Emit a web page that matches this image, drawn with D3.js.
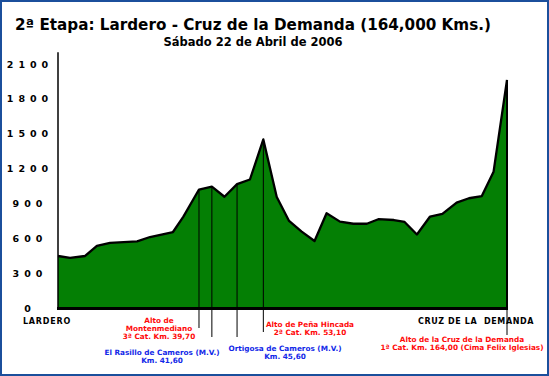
<!DOCTYPE html>
<html>
<head>
<meta charset="utf-8">
<script src="https://cdn.jsdelivr.net/npm/d3@7"></script>
<style>
  html, body { margin: 0; padding: 0; background: #fff; }
  svg { display: block; }
  text { font-family: "DejaVu Sans", Verdana, sans-serif; font-weight: bold; }
</style>
</head>
<body>
<svg class="mainsvg" width="549" height="376"></svg>
<script>
// profile as drawn: horizontal position along the stage (0..164) and altitude (m)
var dist = [0, 4.4, 9.9, 14.2, 19.0, 28.9, 33.6, 42.0, 45.8, 51.5, 56.2, 60.8, 65.4, 70.1,
            75.0, 79.9, 84.4, 89.0, 93.7, 98.1, 103.0, 107.9, 112.8, 117.0, 122.7, 126.6,
            131.1, 135.9, 140.4, 145.6, 150.1, 154.8, 159.1, 164];
var alt = [451, 434, 451, 537, 563, 576, 614, 657, 789, 1022, 1046, 960, 1068, 1108,
           1452, 958, 752, 660, 580, 818, 746, 728, 728, 767, 760, 743,
           636, 790, 812, 909, 947, 966, 1175, 1963];

var yTicks = [0, 300, 600, 900, 1200, 1500, 1800, 2100];

var title = "2ª Etapa: Lardero - Cruz de la Demanda (164,000 Kms.)";
var subtitle = "Sábado 22 de Abril de 2006";

// points marked with a vertical line (position along the drawn profile)
var markDist = [51.5, 56.2, 65.4, 75.0];
var markBottom = [328, 337, 337, 332];

var places = ["LARDERO", "CRUZ DE LA  DEMANDA"];

var notes = [
  { lines: ["Alto de", "Montenmediano", "3ª Cat. Km. 39,70"], color: "#ff0a0a", x: 159, y: 322.5 },
  { lines: ["El Rasillo de Cameros (M.V.)", "Km. 41,60"], color: "#1228e8", x: 162, y: 355 },
  { lines: ["Ortigosa de Cameros (M.V.)", "Km. 45,60"], color: "#1228e8", x: 285, y: 351 },
  { lines: ["Alto de Peña Hincada", "2ª Cat. Km. 53,10"], color: "#ff0a0a", x: 310, y: 326.5 },
  { lines: ["Alto de la Cruz de la Demanda", "1ª Cat. Km. 164,00 (Cima Felix Iglesias)"], color: "#ff0a0a", x: 462, y: 341.5 }
];

var width = 549, height = 376;
var svg = d3.select(".mainsvg");

var x = d3.scaleLinear().domain([0, 164]).range([58, 507]);
var y = d3.scaleLinear().domain([0, 2100]).range([308.5, 64]);

var profile = d3.range(dist.length).map(function (i) { return { d: dist[i], a: alt[i] }; });

function altAt(d) {
  var i = d3.bisectLeft(dist, d);
  if (dist[i] === d || i === 0) return alt[i];
  var t = (d - dist[i - 1]) / (dist[i] - dist[i - 1]);
  return alt[i - 1] + t * (alt[i] - alt[i - 1]);
}

// frame
svg.append("rect")
    .attr("x", 1).attr("y", 1)
    .attr("width", width - 2).attr("height", height - 2)
    .attr("fill", "#fff")
    .attr("stroke", "#1b4f9c")
    .attr("stroke-width", 2);

svg.append("text")
    .attr("x", 253).attr("y", 30)
    .attr("text-anchor", "middle")
    .attr("font-size", 15.2)
    .text(title);

svg.append("text")
    .attr("x", 253).attr("y", 46)
    .attr("text-anchor", "middle")
    .attr("font-size", 11.5)
    .text(subtitle);

// area
var area = d3.area()
    .x(function (d) { return x(d.d); })
    .y0(y(0))
    .y1(function (d) { return y(d.a); });

var line = d3.line()
    .x(function (d) { return x(d.d); })
    .y(function (d) { return y(d.a); });

svg.append("path")
    .datum(profile)
    .attr("d", area)
    .attr("fill", "#047f04");

// marker lines
svg.selectAll(".mark")
    .data(markDist)
    .enter().append("line")
    .attr("class", "mark")
    .attr("x1", function (d) { return x(d); })
    .attr("x2", function (d) { return x(d); })
    .attr("y1", function (d) { return y(altAt(d)); })
    .attr("y2", function (d, i) { return markBottom[i]; })
    .attr("stroke", "#000")
    .attr("stroke-width", 1);

svg.append("path")
    .datum(profile)
    .attr("d", line)
    .attr("fill", "none")
    .attr("stroke", "#000")
    .attr("stroke-width", 2.3)
    .attr("stroke-linejoin", "round");

// end line at the finish
svg.append("line")
    .attr("x1", x(164)).attr("x2", x(164))
    .attr("y1", y(alt[alt.length - 1])).attr("y2", y(0))
    .attr("stroke", "#000").attr("stroke-width", 2);
svg.append("line")
    .attr("x1", x(164)).attr("x2", x(164))
    .attr("y1", 310).attr("y2", 335)
    .attr("stroke", "#000").attr("stroke-width", 1);

// axes
svg.append("line")
    .attr("x1", x(0)).attr("x2", x(0))
    .attr("y1", y(2200)).attr("y2", y(0))
    .attr("stroke", "#000").attr("stroke-width", 1.5);

svg.append("line")
    .attr("x1", x(0) - 1).attr("x2", x(164) + 1)
    .attr("y1", y(0)).attr("y2", y(0))
    .attr("stroke", "#000").attr("stroke-width", 3);

svg.selectAll(".ytick")
    .data(yTicks)
    .enter().append("text")
    .attr("class", "ytick")
    .attr("x", 30)
    .attr("y", function (d) { return y(d) + 3.5; })
    .attr("text-anchor", "middle")
    .attr("font-size", 9.5)
    .attr("letter-spacing", 5)
    .text(function (d) { return d; });

// start / finish names
svg.append("text")
    .attr("x", 47).attr("y", 324)
    .attr("text-anchor", "middle")
    .attr("font-size", 8)
    .attr("letter-spacing", 0.8)
    .text(places[0]);

svg.append("text")
    .attr("x", 476).attr("y", 324)
    .attr("text-anchor", "middle")
    .attr("font-size", 8)
    .attr("letter-spacing", 0.6)
    .attr("xml:space", "preserve")
    .style("white-space", "pre")
    .text(places[1]);

// notes
notes.forEach(function (n) {
  var t = svg.append("text")
      .attr("text-anchor", "middle")
      .attr("font-size", 7.3)
      .attr("fill", n.color);
  n.lines.forEach(function (s, i) {
    t.append("tspan")
        .attr("x", n.x)
        .attr("y", n.y + i * 8.2)
        .text(s);
  });
});
</script>
</body>
</html>
